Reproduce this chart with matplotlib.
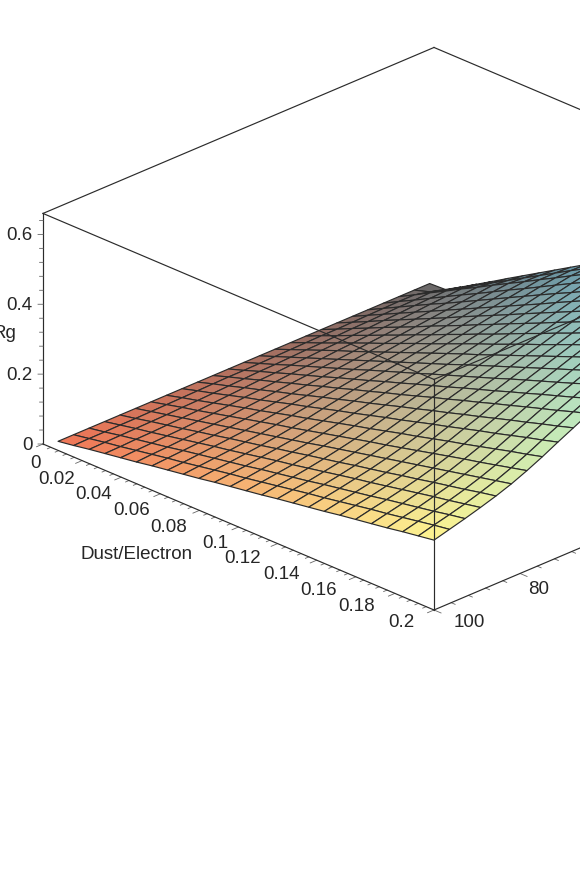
# Rg surface over dust/electron ratio and density, orthographic box cropped by the canvas
import numpy as np
import matplotlib
matplotlib.use('Agg')
import matplotlib.pyplot as plt
from mpl_toolkits.mplot3d import proj3d

plt.rcParams['font.family'] = ['Liberation Sans', 'DejaVu Sans']

W = 580; H = 872

# grid of the surface
dust_values = [.0077, .0157, .0237, .0317, .0397, .0478, .0558, .0638, .0718, .0798, .0878, .0958, .1039,
               .1119, .1199, .1279, .1359, .1439, .1519, .1599, .1680, .1760, .1840, .1920, .2000]
n_values = [100, 96.4, 92.8, 89.2, 85.6, 82, 78.4, 74.8, 71.2, 67.6, 64, 60.4, 56.8, 53.2, 49.6, 46, 42.4,
            38.8, 35.2, 31.6, 28, 24.4, 20.8, 17.2, 13.6]
# one row per n value, one column per dust value
rg_values = [
    [.026, .033, .041, .048, .055, .062, .070, .077, .084, .091, .099, .106, .113, .120, .128, .135, .142, .149, .157, .164, .171, .178, .186, .193, .200],
    [.026, .034, .042, .049, .057, .065, .073, .080, .088, .096, .104, .111, .119, .127, .135, .143, .150, .158, .166, .174, .181, .189, .197, .205, .212],
    [.026, .034, .043, .051, .059, .067, .076, .084, .092, .100, .108, .117, .125, .133, .141, .150, .158, .166, .174, .183, .191, .199, .207, .216, .224],
    [.026, .035, .044, .052, .061, .070, .079, .088, .096, .105, .114, .123, .131, .140, .149, .158, .167, .175, .184, .193, .202, .211, .219, .228, .237],
    [.026, .035, .045, .054, .063, .073, .082, .092, .101, .110, .120, .129, .139, .148, .157, .167, .176, .185, .195, .204, .214, .223, .232, .242, .251],
    [.026, .036, .046, .056, .066, .076, .086, .096, .106, .116, .126, .136, .147, .157, .167, .177, .187, .197, .207, .217, .227, .237, .247, .257, .267],
    [.026, .037, .048, .058, .069, .080, .091, .102, .113, .123, .134, .145, .156, .167, .178, .188, .199, .210, .221, .232, .243, .253, .264, .275, .286],
    [.026, .038, .049, .061, .073, .085, .096, .108, .120, .131, .143, .155, .167, .178, .190, .202, .213, .225, .237, .248, .260, .272, .284, .295, .307],
    [.026, .039, .051, .064, .077, .089, .102, .115, .127, .140, .153, .165, .178, .191, .203, .216, .229, .241, .254, .267, .279, .292, .305, .317, .330],
    [.026, .040, .053, .067, .080, .094, .107, .121, .135, .148, .162, .175, .189, .203, .216, .230, .243, .257, .270, .284, .298, .311, .325, .338, .352],
    [.026, .041, .055, .070, .084, .099, .113, .128, .142, .157, .171, .186, .200, .215, .230, .244, .259, .273, .288, .302, .317, .331, .345, .360, .374],
    [.026, .041, .057, .072, .088, .103, .118, .134, .149, .164, .180, .195, .211, .226, .241, .257, .272, .287, .303, .318, .334, .349, .364, .380, .395],
    [.026, .042, .058, .075, .091, .107, .123, .139, .156, .172, .188, .204, .221, .237, .253, .269, .285, .302, .318, .334, .350, .366, .383, .399, .415],
    [.026, .043, .060, .077, .094, .111, .128, .145, .162, .179, .196, .213, .230, .248, .265, .282, .299, .316, .333, .350, .367, .384, .401, .418, .435],
    [.026, .044, .062, .080, .098, .115, .133, .151, .169, .187, .205, .223, .241, .258, .276, .294, .312, .330, .348, .366, .384, .401, .419, .437, .455],
    [.026, .045, .063, .082, .101, .120, .138, .157, .176, .194, .213, .232, .251, .269, .288, .307, .325, .344, .363, .381, .400, .419, .438, .456, .475],
    [.026, .046, .065, .085, .104, .124, .143, .163, .182, .202, .221, .241, .260, .280, .300, .319, .339, .358, .378, .397, .417, .436, .456, .475, .495],
    [.026, .046, .067, .087, .108, .128, .148, .169, .189, .209, .230, .250, .271, .291, .311, .332, .352, .372, .393, .413, .434, .454, .474, .495, .515],
    [.026, .047, .068, .090, .111, .132, .153, .174, .196, .217, .238, .259, .281, .302, .323, .344, .365, .387, .408, .429, .450, .471, .493, .514, .535],
    [.026, .048, .070, .092, .114, .136, .158, .180, .202, .224, .246, .268, .290, .313, .335, .357, .379, .401, .423, .445, .467, .489, .511, .533, .555],
    [.026, .049, .072, .095, .118, .140, .163, .186, .209, .232, .255, .278, .301, .323, .346, .369, .392, .415, .438, .461, .484, .506, .529, .552, .575],
    [.026, .050, .073, .097, .121, .145, .168, .192, .216, .239, .263, .287, .311, .334, .358, .382, .405, .429, .453, .476, .500, .524, .548, .571, .595],
    [.026, .050, .075, .099, .124, .148, .173, .197, .221, .246, .270, .295, .319, .343, .368, .392, .417, .441, .466, .490, .514, .539, .563, .588, .612],
    [.026, .040, .064, .090, .116, .142, .168, .194, .220, .246, .272, .297, .322, .347, .372, .397, .422, .447, .472, .497, .522, .548, .574, .602, .630],
    [.026, .028, .054, .081, .108, .136, .163, .190, .217, .244, .271, .298, .325, .352, .380, .407, .434, .461, .488, .515, .542, .569, .596, .623, .650],
]

# axis ranges and tick labels
dust_lim = (0, 0.2)
n_lim = (9.1, 100)
rg_lim = (0, 0.66)
dust_labels = ['0', '0.02', '0.04', '0.06', '0.08', '0.1', '0.12', '0.14', '0.16', '0.18', '0.2']
rg_labels = ['0', '0.2', '0.4', '0.6']
n_labels = ['100', '80']

# corner colours of the surface (low dust/high n, high dust/high n, low dust/low n, high dust/low n)
c00 = np.array([238, 120, 88]) / 255
c10 = np.array([252, 242, 145]) / 255
c01 = np.array([108, 105, 105]) / 255
c11 = np.array([95, 215, 255]) / 255

line_col = '#2b2b2b'
tick_col = '#666666'
text_col = '#262626'
font_size = 13.5

fig = plt.figure(figsize=(W / 100, H / 100), dpi=100)
ax = fig.add_subplot(projection='3d', proj_type='ortho', computed_zorder=False)
ax.view_init(elev=25.12, azim=45)
ax.set_box_aspect((1, 1, 0.4605))
ax.set_xlim(n_lim[0], n_lim[1], view_margin=0)
ax.set_ylim(dust_lim[0], dust_lim[1], view_margin=0)
ax.set_zlim(rg_lim[0], rg_lim[1], view_margin=0)
ax.set_axis_off()
ax.patch.set_alpha(0)


def to_px(n, d, z):
    xs, ys, _ = proj3d.proj_transform(n, d, z, ax.get_proj())
    return ax.transData.transform((xs, ys))


# fit the box onto the canvas: left bottom corner and front bottom corner of the reference
left_target = np.array([43, H - 444.0])
front_target = np.array([434, H - 611.0])
size = 800.0
ax.set_position([0, 0, size / W, size / H])
ax.apply_aspect()
a = to_px(n_lim[1], dust_lim[0], 0)
b = to_px(n_lim[1], dust_lim[1], 0)
size = size * (front_target[0] - left_target[0]) / (b[0] - a[0])
ax.set_position([0, 0, size / W, size / H])
ax.apply_aspect()
a = to_px(n_lim[1], dust_lim[0], 0)
ax.set_position([(left_target[0] - a[0]) / W, (left_target[1] - a[1]) / H, size / W, size / H])
ax.apply_aspect()

# surface, colours are set per cell after the surface exists so the grid lines stay dark
D, N = np.meshgrid(dust_values, n_values)
Z = np.array(rg_values)
u = np.linspace(0, 1, len(dust_values) - 1)[None, :, None]
v = np.linspace(0, 1, len(n_values) - 1)[:, None, None]
colors = (1 - u) * (1 - v) * c00 + u * (1 - v) * c10 + (1 - u) * v * c01 + u * v * c11
surf = ax.plot_surface(N, D, Z, color='w', rstride=1, cstride=1, shade=False,
                       edgecolor=line_col, linewidth=0.85, zorder=2)
surf.set_facecolor(colors.reshape(-1, 3))
surf.set_edgecolor(line_col)
surf.set_joinstyle('round')  # miter joins stick out of the flat cell corners

# box edges, the back corner edges are not drawn
n0, n1 = n_lim
d0, d1 = dust_lim
z1 = rg_lim[1]
back_edges = [((n1, d0, z1), (n0, d0, z1)), ((n0, d0, z1), (n0, d1, z1)), ((n1, d0, 0), (n1, d0, z1))]
front_edges = [((n1, d0, z1), (n1, d1, z1)), ((n1, d1, z1), (n0, d1, z1)), ((n1, d1, z1), (n1, d1, 0)),
               ((n1, d0, 0), (n1, d1, 0)), ((n1, d1, 0), (n0, d1, 0))]
for p, q in back_edges:
    ax.plot(*zip(p, q), color=line_col, lw=0.85, zorder=1)
for p, q in front_edges:
    ax.plot(*zip(p, q), color=line_col, lw=0.85, zorder=3)

# ticks, every fifth one is a major tick
for k, val in enumerate(np.arange(0, 0.201, 0.004)):
    ln = 1.5 if k % 5 == 0 else 0.8
    ax.plot([n1, n1 + ln], [val, val], [0, 0], color=tick_col, lw=0.6, zorder=1)
for k, val in enumerate(np.arange(100, 9, -4)):
    ln = 0.0036 if k % 5 == 0 else 0.002
    ax.plot([val, val], [d1, d1 + ln], [0, 0], color=tick_col, lw=0.6, zorder=1)
for k, val in enumerate(np.arange(0, 0.65, 0.04)):
    ln = 0.58 if k % 5 == 0 else 0.4
    ax.plot([n1 + ln, n1], [d0 - ln * 0.00219, d0], [val, val], color=tick_col, lw=0.6, zorder=1)


def put_text(px, dx, dy, txt, ha='center'):
    fig.text((px[0] + dx) / W, (px[1] - dy) / H, txt, ha=ha, va='center',
             color=text_col, fontsize=font_size)


# tick labels, offsets in pixels from the tick
dust_offsets = [(-8, 19.5), (-25, 18.5), (-28, 17.5), (-29, 16.5), (-31, 17.5), (-23.5, 17),
                (-34.6, 15), (-35, 14.5), (-37.5, 13.5), (-38, 13.5), (-33, 12.5)]
for k, txt in enumerate(dust_labels):
    dx, dy = dust_offsets[k]
    put_text(to_px(n1, float(txt), 0), dx, dy, txt)
for txt in rg_labels:
    put_text(to_px(n1, d0, float(txt)), -10.5, 1, txt, ha='right')
n_offsets = [(35, 12.5), (19, 16.5)]
for k, txt in enumerate(n_labels):
    dx, dy = n_offsets[k]
    put_text(to_px(float(txt), d1, 0), dx, dy, txt)

# axis titles, Rg runs off the left edge like in the reference
fig.text(137 / W, 1 - 554 / H, 'Dust/Electron', ha='center', va='center', color=text_col, fontsize=font_size)
fig.text(4.2 / W, 1 - 333 / H, 'Rg', ha='center', va='center', color=text_col, fontsize=font_size)

fig.savefig('out.png', dpi=100)
